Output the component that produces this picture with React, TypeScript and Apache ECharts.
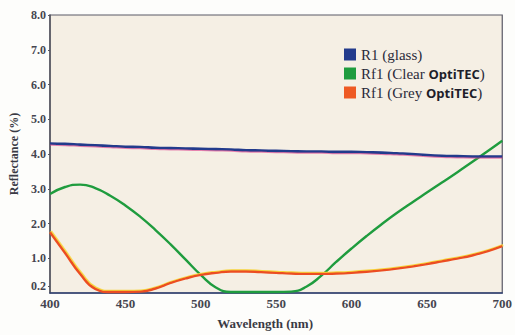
import React, { useEffect, useRef } from "react";
import * as echarts from "echarts";

const wavelengths = [400, 410, 420, 430, 440, 450, 460, 470, 480, 490, 500, 510, 520, 530, 540, 550, 560, 570, 580, 590, 600, 610, 620, 630, 640, 650, 660, 670, 680, 690, 700];

const glass = [4.3, 4.29, 4.27, 4.25, 4.23, 4.21, 4.2, 4.18, 4.17, 4.16, 4.15, 4.14, 4.13, 4.11, 4.1, 4.09, 4.08, 4.07, 4.07, 4.06, 4.06, 4.05, 4.04, 4.02, 4.0, 3.97, 3.95, 3.94, 3.93, 3.93, 3.93];

const clear = [2.85, 3.05, 3.12, 3.02, 2.8, 2.52, 2.19, 1.81, 1.4, 0.96, 0.52, 0.16, 0.03, 0.03, 0.03, 0.03, 0.04, 0.18, 0.5, 0.9, 1.28, 1.64, 1.98, 2.3, 2.6, 2.89, 3.18, 3.47, 3.77, 4.07, 4.38];

const grey = [1.75, 1.15, 0.55, 0.12, 0.03, 0.03, 0.04, 0.13, 0.29, 0.42, 0.52, 0.58, 0.62, 0.62, 0.6, 0.58, 0.56, 0.55, 0.55, 0.56, 0.58, 0.61, 0.65, 0.7, 0.76, 0.83, 0.91, 0.99, 1.08, 1.2, 1.35];

const yTickValues = [0.2, 1, 2, 3, 4, 5, 6, 7, 8];

const seriesNames = ["R1 (glass)", "Rf1 (Clear OptiTEC)", "Rf1 (Grey OptiTEC)"];

const pairs = (ys: number[]) => wavelengths.map((w, i) => [w, ys[i]]);

export default function App() {
  const ref = useRef<HTMLDivElement>(null);
  useEffect(() => {
    if (!ref.current) return;
    const chart = echarts.init(ref.current, null, { renderer: "svg" });
    const serif = "'Liberation Serif', 'DejaVu Serif', serif";
    chart.setOption({
      animation: false,
      backgroundColor: "#fdfdfb",
      grid: {
        left: 48,
        top: 15,
        right: 10,
        bottom: 36,
        show: true,
        backgroundColor: "#f5efe4",
        borderColor: "#5a5a66",
        borderWidth: 1.2,
      },
      legend: {
        orient: "vertical",
        left: 339,
        top: 42,
        itemWidth: 12,
        itemHeight: 12,
        itemGap: 4,
        icon: "rect",
        data: seriesNames,
        textStyle: {
          fontFamily: serif,
          fontSize: 15,
          color: "#2a2a3a",
          rich: {
            a: { fontFamily: serif, fontSize: 15, color: "#2a2a3a" },
            b: { fontFamily: "'Open Sans', 'DejaVu Sans', sans-serif", fontSize: 13, fontWeight: "bold", color: "#1e1e2a" },
          },
        },
        formatter: (name: string) => {
          const m = name.match(/^(.*?)(OptiTEC)(\))$/);
          if (m) return `{a|${m[1]}}{b|${m[2]}}{a|${m[3]}}`;
          return `{a|${name}}`;
        },
      },
      xAxis: {
        type: "value",
        min: 400,
        max: 700,
        interval: 50,
        name: "Wavelength (nm)",
        nameLocation: "middle",
        nameGap: 24,
        nameTextStyle: {
          fontFamily: serif,
          fontSize: 13,
          fontWeight: "bold",
          color: "#3a3a44",
          padding: [0, 22, 0, 0],
        },
        axisLine: { show: true, lineStyle: { color: "#2e3f72", width: 1.5 } },
        axisTick: { show: false },
        splitLine: { show: false },
        axisLabel: {
          fontFamily: serif,
          fontSize: 13,
          fontWeight: "bold",
          color: "#45454f",
          margin: 4,
        },
      },
      yAxis: {
        type: "value",
        min: 0,
        max: 8,
        name: "Reflectance (%)",
        nameLocation: "middle",
        nameGap: 30,
        nameTextStyle: {
          fontFamily: serif,
          fontSize: 12,
          fontWeight: "bold",
          color: "#3a3a44",
        },
        axisLine: { show: true, lineStyle: { color: "#55555f", width: 1.5 } },
        axisTick: { show: true, length: 2, customValues: yTickValues, lineStyle: { color: "#55555f" } },
        splitLine: { show: false },
        axisLabel: {
          customValues: yTickValues,
          formatter: (v: number) => v.toFixed(1),
          fontFamily: serif,
          fontSize: 12,
          fontWeight: "bold",
          color: "#45454f",
          margin: 4,
        },
      },
      series: [
        {
          name: seriesNames[0],
          type: "line",
          data: pairs(glass),
          smooth: 0.5,
          showSymbol: false,
          color: "#233b8c",
          lineStyle: { width: 2.6, color: "#233b8c", shadowColor: "rgba(220,60,140,0.6)", shadowOffsetY: 1, shadowBlur: 0 },
          z: 3,
        },
        {
          name: seriesNames[1],
          type: "line",
          data: pairs(clear),
          smooth: 0.5,
          showSymbol: false,
          color: "#1f9c3e",
          lineStyle: { width: 2.4, color: "#1f9c3e" },
          z: 2,
        },
        {
          name: seriesNames[2],
          type: "line",
          data: pairs(grey),
          smooth: 0.5,
          showSymbol: false,
          color: "#ee5a24",
          lineStyle: { width: 2.4, color: "#ec4e22", shadowColor: "#f7d43a", shadowOffsetX: 0.8, shadowOffsetY: -1, shadowBlur: 0 },
          z: 2,
        },
      ],
    });
    return () => chart.dispose();
  }, []);
  return (
    <div
      ref={ref}
      style={{ position: "fixed", left: 0, top: 0, width: 515, height: 335 }}
    />
  );
}
